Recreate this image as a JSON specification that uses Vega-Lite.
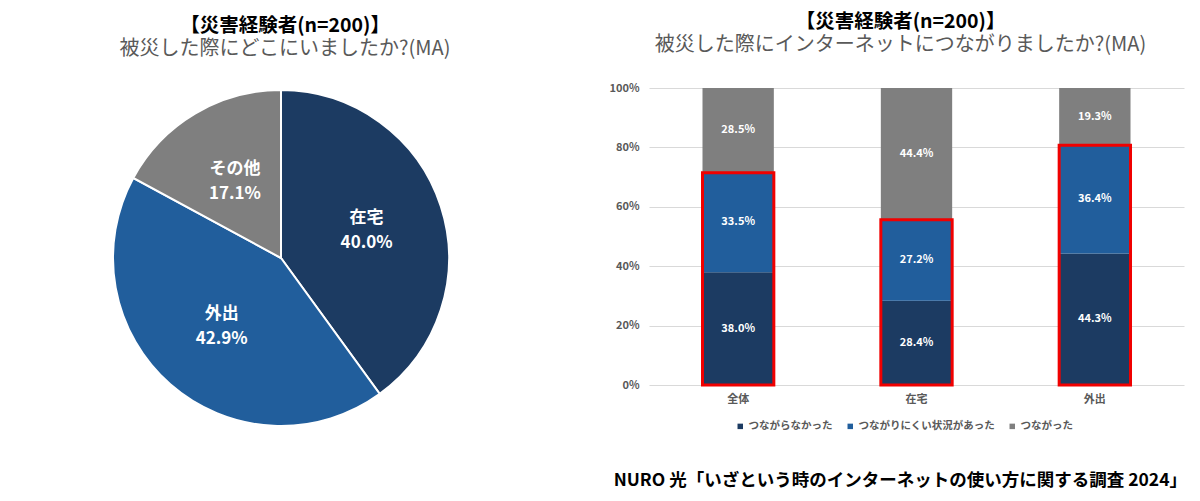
{
  "$schema": "https://vega.github.io/schema/vega-lite/v6.json",
  "padding": {"left": 0, "top": 11, "right": 0, "bottom": 6},
  "spacing": 46,
  "resolve": {"scale": {"color": "independent"}, "legend": {"color": "independent"}},
  "config": {
    "view": {"stroke": null},
    "font": "Noto Sans CJK JP",
    "title": {"font": "Noto Sans CJK JP", "subtitleFont": "Noto Sans CJK JP"}
  },
  "datasets": {
    "pie": [
      {"place": "在宅", "share": 0.400, "rank": 1},
      {"place": "外出", "share": 0.429, "rank": 2},
      {"place": "その他", "share": 0.171, "rank": 3}
    ],
    "bars": [
      {"group": "全体", "status": "つながらなかった", "value": 0.380, "rank": 1},
      {"group": "全体", "status": "つながりにくい状況があった", "value": 0.335, "rank": 2},
      {"group": "全体", "status": "つながった", "value": 0.285, "rank": 3},
      {"group": "在宅", "status": "つながらなかった", "value": 0.284, "rank": 1},
      {"group": "在宅", "status": "つながりにくい状況があった", "value": 0.272, "rank": 2},
      {"group": "在宅", "status": "つながった", "value": 0.444, "rank": 3},
      {"group": "外出", "status": "つながらなかった", "value": 0.443, "rank": 1},
      {"group": "外出", "status": "つながりにくい状況があった", "value": 0.364, "rank": 2},
      {"group": "外出", "status": "つながった", "value": 0.193, "rank": 3}
    ]
  },
  "title": {
    "text": "NURO 光「いざという時のインターネットの使い方に関する調査 2024」",
    "orient": "bottom",
    "anchor": "end",
    "dx": 3,
    "fontSize": 17.5,
    "fontWeight": "bold",
    "color": "#000000",
    "offset": 40
  },
  "hconcat": [
    {
      "width": 562,
      "height": 340,
      "title": {
        "text": "【災害経験者(n=200)】",
        "subtitle": "被災した際にどこにいましたか?(MA)",
        "anchor": "middle",
        "dx": 4,
        "fontSize": 19.5,
        "fontWeight": "bold",
        "color": "#000000",
        "subtitleFontSize": 20,
        "subtitleColor": "#595959",
        "subtitlePadding": 3,
        "offset": 26
      },
      "data": {"name": "pie"},
      "layer": [
        {
          "mark": {"type": "arc", "outerRadius": 168, "stroke": "#ffffff", "strokeWidth": 2},
          "encoding": {
            "theta": {"field": "share", "type": "quantitative", "stack": true},
            "order": {"field": "rank", "type": "quantitative"},
            "color": {
              "field": "place", "type": "nominal",
              "scale": {"domain": ["在宅", "外出", "その他"], "range": ["#1C3B62", "#215E9C", "#7F7F7F"]},
              "legend": null
            }
          }
        },
        {
          "mark": {"type": "text", "radius": 90, "dy": -12, "color": "#ffffff", "fontSize": 17, "fontWeight": "bold"},
          "encoding": {
            "theta": {"field": "share", "type": "quantitative", "stack": true},
            "order": {"field": "rank", "type": "quantitative"},
            "text": {"field": "place", "type": "nominal"}
          }
        },
        {
          "mark": {"type": "text", "radius": 90, "dy": 13, "color": "#ffffff", "fontSize": 17, "fontWeight": "bold"},
          "encoding": {
            "theta": {"field": "share", "type": "quantitative", "stack": true},
            "order": {"field": "rank", "type": "quantitative"},
            "text": {"field": "share", "type": "quantitative", "format": ".1%"}
          }
        }
      ]
    },
    {
      "width": 535,
      "height": 297,
      "title": {
        "text": "【災害経験者(n=200)】",
        "subtitle": "被災した際にインターネットにつながりましたか?(MA)",
        "anchor": "middle",
        "frame": "group",
        "dx": -16,
        "fontSize": 19.5,
        "fontWeight": "bold",
        "color": "#000000",
        "subtitleFontSize": 20,
        "subtitleColor": "#595959",
        "subtitlePadding": 3,
        "offset": 26
      },
      "data": {"name": "bars"},
      "layer": [
        {
          "mark": {"type": "bar"},
          "encoding": {
            "x": {
              "field": "group", "type": "nominal", "sort": ["全体", "在宅", "外出"],
              "scale": {"paddingInner": 0.6, "paddingOuter": 0.3},
              "axis": {"title": null, "labelAngle": 0, "domain": false, "ticks": false, "labelPadding": 8, "labelFontSize": 11, "labelFontWeight": "bold", "labelColor": "#595959"}
            },
            "y": {
              "field": "value", "type": "quantitative", "stack": "zero",
              "scale": {"domain": [0, 1]},
              "axis": {"title": null, "format": ".0%", "values": [0, 0.2, 0.4, 0.6, 0.8, 1], "domain": false, "ticks": false, "labelPadding": 10, "labelFontSize": 11, "labelFontWeight": "bold", "labelColor": "#595959", "gridColor": "#D9D9D9", "gridWidth": 1}
            },
            "order": {"field": "rank", "type": "quantitative"},
            "color": {
              "field": "status", "type": "nominal",
              "scale": {"domain": ["つながらなかった", "つながりにくい状況があった", "つながった"], "range": ["#1C3B62", "#215E9C", "#7F7F7F"]},
              "legend": {"title": null, "orient": "none", "legendX": 86, "legendY": 333, "direction": "horizontal", "symbolType": "square", "symbolSize": 30, "labelFontSize": 10.5, "labelFontWeight": "bold", "labelColor": "#595959", "columnPadding": 12, "labelOffset": 3}
            }
          }
        },
        {
          "transform": [
            {"stack": "value", "groupby": ["group"], "sort": [{"field": "rank", "order": "ascending"}], "as": ["v0", "v1"]},
            {"fold": ["v0", "v1"], "as": ["edge", "pos"]},
            {"aggregate": [{"op": "mean", "field": "pos", "as": "mid"}], "groupby": ["group", "status", "value"]}
          ],
          "mark": {"type": "text", "color": "#ffffff", "fontSize": 11, "fontWeight": "bold"},
          "encoding": {
            "x": {"field": "group", "type": "nominal", "sort": ["全体", "在宅", "外出"]},
            "y": {"field": "mid", "type": "quantitative"},
            "text": {"field": "value", "type": "quantitative", "format": ".1%"}
          }
        },
        {
          "transform": [
            {"filter": "datum.status !== 'つながった'"},
            {"aggregate": [{"op": "sum", "field": "value", "as": "total"}], "groupby": ["group"]}
          ],
          "mark": {"type": "bar", "fill": "transparent", "stroke": "#F00000", "strokeWidth": 3},
          "encoding": {
            "x": {"field": "group", "type": "nominal", "sort": ["全体", "在宅", "外出"]},
            "y": {"field": "total", "type": "quantitative"}
          }
        }
      ]
    }
  ]
}
